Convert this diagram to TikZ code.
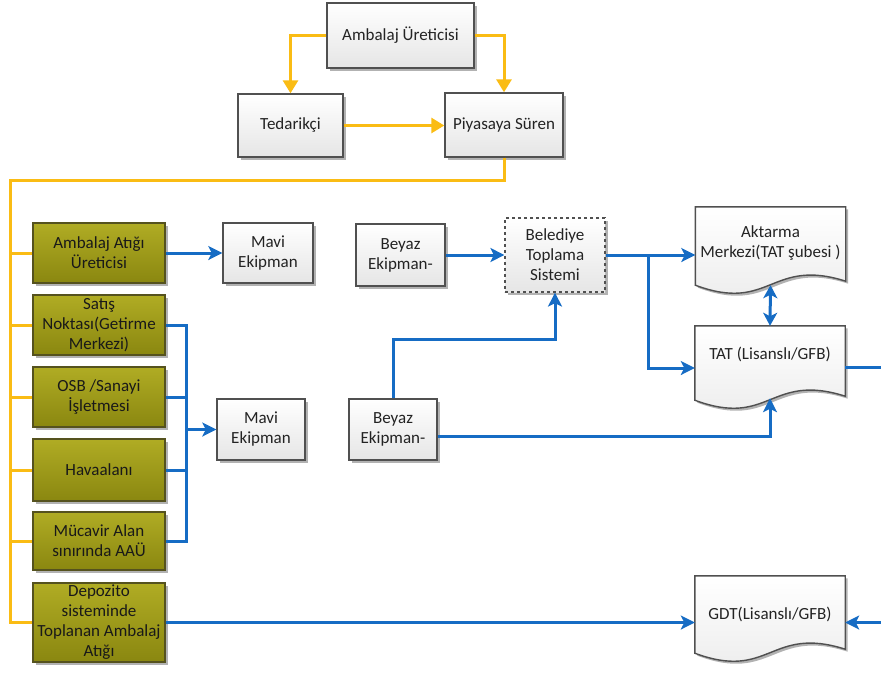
\documentclass[tikz,border=0pt]{standalone}
\usepackage{fontspec}
\setmainfont{Carlito}
\usetikzlibrary{arrows.meta,calc,shadows}
\definecolor{ylw}{RGB}{250,188,20}
\definecolor{blu}{RGB}{22,108,196}
\definecolor{olvtop}{RGB}{176,172,36}
\definecolor{olvbot}{RGB}{138,135,16}
\definecolor{olvline}{RGB}{85,82,30}
\definecolor{boxline}{RGB}{80,80,80}
\definecolor{txt}{RGB}{35,35,35}
\newcommand{\docpath}[1]{(#1.north west) -- (#1.north east) -- ($(#1.south east)+(0,-4)$) .. controls ($(#1.south)+(0,-28)$) and ($(#1.south)+(0,28)$) .. (#1.south west) -- cycle}
\begin{document}
\begin{tikzpicture}[x=1pt,y=-1pt,
  every node/.style={font=\fontsize{17}{20}\selectfont, text=txt, align=center, inner sep=1pt},
  shd/.style={drop shadow={shadow xshift=2.5pt, shadow yshift=-2.5pt, opacity=0.3, fill=black}},
  graybox/.style={draw=boxline, line width=1.4pt, top color=white, bottom color=black!10, shd},
  olvbox/.style={draw=olvline, line width=1.4pt, top color=olvtop, bottom color=olvbot, shd, minimum width=132, text=black!90},
  docnode/.style={minimum width=150},
  docshape/.style={draw=boxline, line width=1.4pt, top color=white, bottom color=black!8, shd},
  yl/.style={draw=ylw, line width=3pt},
  yarr/.style={yl, -{Triangle[length=13pt,width=15pt]}},
  bl/.style={draw=blu, line width=3pt},
  barr/.style={bl, -{Stealth[length=14pt,width=14pt,inset=3.5pt]}},
  bdarr/.style={bl, {Stealth[length=13pt,width=14pt,inset=3.5pt]}-{Stealth[length=13pt,width=14pt,inset=3.5pt]}}
]
\useasboundingbox (0,0) rectangle (881,673);

% top boxes
\node[graybox, minimum width=147, minimum height=65] (amb) at (400.5,35.5) {Ambalaj Üreticisi};
\node[graybox, minimum width=105, minimum height=63] (ted) at (290.5,125.5) {Tedarikçi};
\node[graybox, minimum width=118, minimum height=64] (pys) at (504,125) {Piyasaya Süren};

% olive boxes
\node[olvbox, minimum height=60] (aau) at (99,253) {Ambalaj Atığı\\Üreticisi};
\node[olvbox, minimum height=60] (sat) at (99,325) {Satış\\Noktası(Getirme\\Merkezi)};
\node[olvbox, minimum height=60] (osb) at (99,397) {OSB /Sanayi\\İşletmesi};
\node[olvbox, minimum height=62] (hav) at (99,470) {Havaalanı};
\node[olvbox, minimum height=58] (muc) at (99,541) {Mücavir Alan\\sınırında AAÜ};
\node[olvbox, minimum height=79] (dep) at (99,622.5) {Depozito\\sisteminde\\Toplanan Ambalaj\\Atığı};

% middle boxes
\node[graybox, minimum width=90, minimum height=60] (mavi1) at (268,253) {Mavi\\Ekipman};
\node[graybox, minimum width=88, minimum height=61] (mavi2) at (261,429.5) {Mavi\\Ekipman};
\node[graybox, minimum width=89, minimum height=62] (bey1) at (400.5,255) {Beyaz\\Ekipman-};
\node[graybox, minimum width=88, minimum height=61] (bey2) at (393,429.5) {Beyaz\\Ekipman-};
\node[graybox, dashed, line width=1.2pt, minimum width=100, minimum height=74] (bel) at (555,255) {Belediye\\Toplama\\Sistemi};

% document shapes
\node[docnode, minimum height=78] (akt) at (770.5,246) {};
\node[docnode, minimum height=74] (tat) at (770,363) {};
\node[docnode, minimum height=77] (gdt) at (770,614.5) {};
\path[docshape] \docpath{akt};
\path[docshape] \docpath{tat};
\path[docshape] \docpath{gdt};
\node (akttxt) at ($(akt.center)+(0,-3)$) {Aktarma\\Merkezi(TAT şubesi )};
\node (tattxt) at ($(tat.center)+(0,-9)$) {TAT (Lisanslı/GFB)};
\node (gdttxt) at (gdt.center) {GDT(Lisanslı/GFB)};

% helper coordinates
\coordinate (ytop) at (10,180);
\coordinate (bus) at (186,0);
\coordinate (split) at (648,255);
\coordinate (jog) at (0,339);
\coordinate (redge) at (881,0);

% yellow connectors
\draw[yarr] (amb.west) -| (ted.north);
\draw[yarr] (amb.east) -| (pys.north);
\draw[yarr] (ted.east) -- (pys.west |- ted.east);
\draw[yl] (pys.south) |- (ytop) -- (ytop |- dep.west) -- (dep.west);
\foreach \n in {aau,sat,osb,hav,muc}{
  \draw[yl] (ytop |- \n.west) -- (\n.west);
}

% blue connectors left
\draw[barr] (aau.east) -- (mavi1.west);
\draw[bl] (sat.east) -- (bus |- sat.east) -- (bus |- muc.east) -- (muc.east);
\draw[bl] (osb.east) -- (bus |- osb.east);
\draw[bl] (hav.east) -- (bus |- hav.east);
\draw[barr] (bus |- mavi2.west) -- (mavi2.west);

% blue connectors right
\draw[barr] (bey1.east) -- (bel.west);
\draw[bl] (bel.east) -- (split);
\draw[barr] (split) -- (akt.west |- split);
\draw[barr] (split) |- ($(tat.west)+(0,5)$);
\draw[barr] (bey2.north) -- (bey2.north |- jog) -| (bel.south);
\draw[barr] ($(bey2.east)+(0,7)$) -| ($(tat.south)+(0,-2)$);
\draw[bdarr] (akt.south) -- (tat.north);
\draw[bl] ($(tat.east)+(0,4)$) coordinate (t1) -- (t1 -| redge);
\draw[barr] (dep.east) -- (gdt.west |- dep.east);
\draw[barr] (redge |- dep.east) -- (gdt.east |- dep.east);
\end{tikzpicture}
\end{document}
